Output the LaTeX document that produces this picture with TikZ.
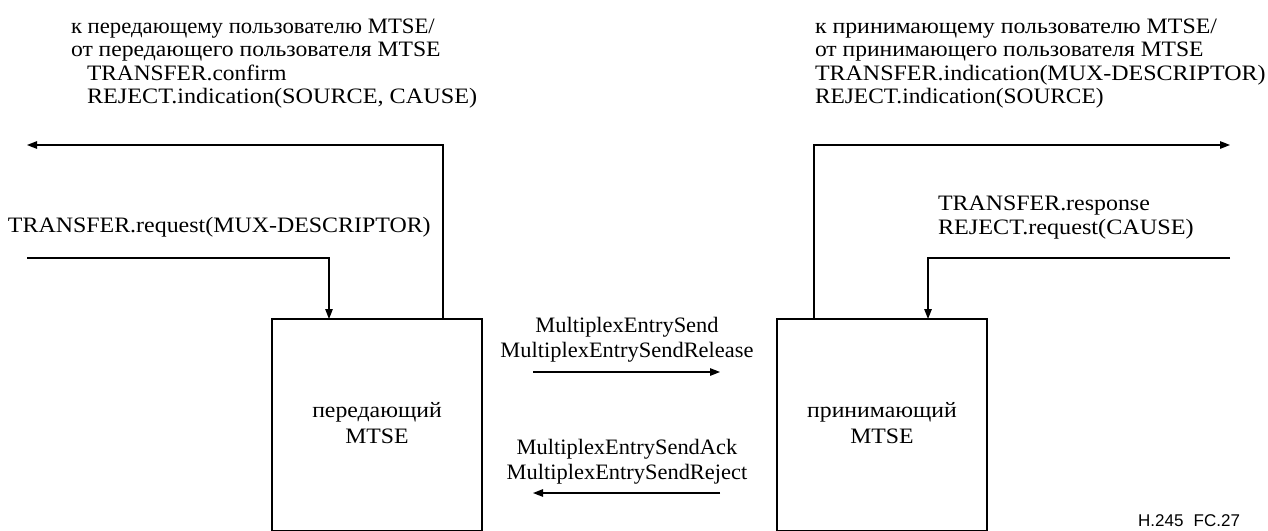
\documentclass[tikz,border=0pt]{standalone}
\usepackage{fontspec}
\setmainfont{Liberation Serif}
\newfontfamily\figfont{Liberation Sans}
\usetikzlibrary{arrows.meta}
\begin{document}
\begin{tikzpicture}[x=1pt,y=-1pt,
  every node/.style={font=\fontsize{22}{26}\selectfont, inner sep=0pt, outer sep=0pt},
  st/.style={font=\fontsize{22}{26}\selectfont\addfontfeature{FakeStretch=#1}},
  mtse/.style={draw, line width=1.3pt, minimum width=210pt, minimum height=212pt},
  boxtxt/.style={align=center, st=1.08},
  flow/.style={line width=1.3pt, -{Triangle[length=10pt,width=7.5pt]}},
  ltxt/.style={anchor=base west},
  ctxt/.style={anchor=base, st=1.02},
  figlabel/.style={anchor=base east, font=\figfont\fontsize{17}{19}\selectfont}]
\useasboundingbox (0,0) rectangle (1268,530);
\clip (0,0) rectangle (1268,530);

% boxes (open at the bottom edge of the figure)
\node[mtse] (tx) at (377,425) {};
\node[mtse] (rx) at (882,425) {};
\node[boxtxt] (txl) at (377,423) {передающий\\MTSE};
\node[boxtxt] (rxl) at (882,423) {принимающий\\MTSE};

% free ends
\coordinate (lout) at (27,145);
\coordinate (lin)  at (27,258);
\coordinate (rout) at (1230,145);
\coordinate (rin)  at (1230,258);
\coordinate (m1s) at (533,372);
\coordinate (m1e) at (720,372);
\coordinate (m2s) at (720,493);
\coordinate (m2e) at (533,493);

% connectors
\draw[flow] ([xshift=66pt]tx.north) |- (lout);
\draw[flow] (lin) -| ([xshift=-48pt]tx.north);
\draw[flow] ([xshift=-68pt]rx.north) |- (rout);
\draw[flow] (rin) -| ([xshift=46pt]rx.north);
\draw[flow] (m1s) -- (m1e);
\draw[flow] (m2s) -- (m2e);

% left texts
\node[ltxt, st=1.033] (lt1) at (71,33) {к передающему пользователю MTSE/};
\node[ltxt, st=1.075] (lt2) at (71,56) {от передающего пользователя MTSE};
\node[ltxt, st=1.064] (lt3) at (87,80) {TRANSFER.confirm};
\node[ltxt, st=1.10] (lt4) at (87,103) {REJECT.indication(SOURCE, CAUSE)};
\node[ltxt, st=1.087] (lreq) at (8,232) {TRANSFER.request(MUX-DESCRIPTOR)};

% right texts
\node[ltxt, st=1.084] (rt1) at (815,33) {к принимающему пользователю MTSE/};
\node[ltxt, st=1.072] (rt2) at (815,56) {от принимающего пользователя MTSE};
\node[ltxt, st=1.09] (rt3) at (815,80) {TRANSFER.indication(MUX-DESCRIPTOR)};
\node[ltxt, st=1.063] (rt4) at (815,103) {REJECT.indication(SOURCE)};
\node[ltxt, st=1.087] (rr1) at (938,210) {TRANSFER.response};
\node[ltxt, st=1.10] (rr2) at (938,234) {REJECT.request(CAUSE)};

% middle texts
\node[ctxt] (mt1) at (627,332) {MultiplexEntrySend};
\node[ctxt] (mt2) at (627,357) {MultiplexEntrySendRelease};
\node[ctxt] (mt3) at (627,454) {MultiplexEntrySendAck};
\node[ctxt] (mt4) at (627,479) {MultiplexEntrySendReject};

% figure label
\node[figlabel] (fig) at (1240,526) {H.245\hspace{0.6em}FC.27};
\end{tikzpicture}
\end{document}
